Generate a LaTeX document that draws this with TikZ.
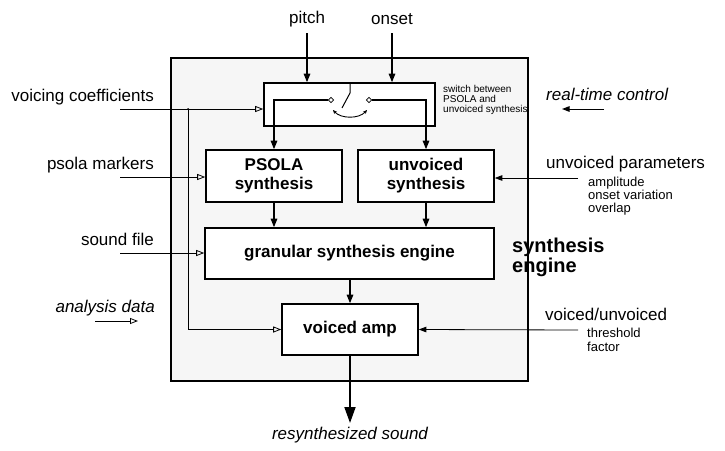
\documentclass[tikz,border=0pt]{standalone}
\usepackage{fontspec}
\setmainfont{Liberation Sans}
\usetikzlibrary{arrows.meta,shapes.geometric}

\tikzset{
	blk/.style={draw,line width=1.6pt,fill=white,align=center,inner sep=0pt,
		font=\fontsize{17}{19}\selectfont\bfseries},
	lbl/.style={inner sep=0pt,font=\fontsize{17}{19}\selectfont},
	sublbl/.style={inner sep=0pt,align=left,anchor=north west,font=\fontsize{13}{13}\selectfont},
	ctl/.style={line width=1.3pt,-{Triangle[length=8.5pt,width=6.5pt]}},
	dat/.style={line width=0.8pt,-{Triangle[open,length=8pt,width=6pt]}},
	par/.style={line width=0.8pt,-{Triangle[length=7.5pt,width=5.5pt]}},
	contact/.style={diamond,draw,line width=0.8pt,fill=white,inner sep=1.4pt},
}

\begin{document}
\begin{tikzpicture}[x=1pt,y=-1pt]
	\useasboundingbox (0,0) rectangle (725,450);
	% engine frame
	\node[draw,line width=1.5pt,fill=gray!7,minimum width=357pt,minimum height=323pt,inner sep=0pt] (eng) at (349.5,219.5) {};
	\node[inner sep=0pt,anchor=north west,align=left,font=\fontsize{20}{20}\selectfont\bfseries] (englbl) at (512,237.7) {synthesis\\engine};

	% blocks
	\node[blk,minimum width=171pt,minimum height=43pt] (sw) at (349.5,104.5) {};
	\node[blk,minimum width=136pt,minimum height=52pt] (psola) at (274,176) {PSOLA\\synthesis};
	\node[blk,minimum width=136pt,minimum height=52pt] (unv) at (426,176) {unvoiced\\synthesis};
	\node[blk,minimum width=289pt,minimum height=51pt] (gran) at (349.5,253.5) {granular synthesis engine};
	\node[blk,minimum width=136pt,minimum height=51pt] (vamp) at (350,329.5) {voiced amp};

	% switch
	\node[contact] (cl) at (331,100) {};
	\node[contact] (cr) at (369,100) {};
	\draw[line width=1pt] (350,83) -- (350,93) -- (342,108);
	\draw[line width=0.9pt,{Stealth[length=4pt,width=3.5pt]}-{Stealth[length=4pt,width=3.5pt]}] (333,110) .. controls (341,119) and (359,119) .. (367,110);
	\draw[ctl] (cl.west) -| (psola.north);
	\draw[ctl] (cr.east) -| (unv.north);
	\node[inner sep=0pt,anchor=north west,align=left,font=\fontsize{10}{10}\selectfont] (swlbl) at (443,84.8) {switch between\\PSOLA and\\unvoiced synthesis};

	% real-time control
	\node[lbl,anchor=base] (pitch) at (307,23) {pitch};
	\node[lbl,anchor=base] (onset) at (392,24) {onset};
	\draw[ctl] ([yshift=-10pt]pitch.base) -- (pitch.base |- sw.north);
	\draw[ctl] ([yshift=-9pt]onset.base) -- (onset.base |- sw.north);
	\node[lbl,anchor=base west,font=\fontsize{17}{19}\selectfont\itshape] (rtc) at (546,100) {real-time control};
	\coordinate (rtcA) at (604,109);
	\coordinate (rtcB) at (562,109);
	\draw[par,line width=1pt] (rtcA) -- (rtcB);

	\node[lbl,anchor=base west] (uvp) at (546,168) {unvoiced parameters};
	\node[sublbl] (uvpsub) at (588,176.7) {amplitude\\onset variation\\overlap};
	\coordinate (uvpin) at (578,178);
	\draw[par] (uvpin) -- (uvpin -| unv.east);

	\node[lbl,anchor=base west] (vu) at (545,320) {voiced/unvoiced};
	\node[sublbl,font=\fontsize{13}{14}\selectfont] (vusub) at (587,327.7) {threshold\\factor};
	\coordinate (vuin) at (578,330);
	\draw[par] (vuin) -- (vamp.east);

	% analysis data
	\node[lbl,anchor=base east] (vc) at (154,101) {voicing coefficients};
	\coordinate (vcin) at (120,109);
	\coordinate (vcj) at (188,109);
	\draw[dat] (vcin) -- (vcin -| sw.west);
	\fill (vcj) circle (1pt);
	\draw[dat] (vcj) |- (vamp.west);

	\node[lbl,anchor=base east] (pm) at (154,169) {psola markers};
	\coordinate (pmin) at (120,177);
	\draw[dat] (pmin) -- (pmin -| psola.west);

	\node[lbl,anchor=base east] (sf) at (154,245) {sound file};
	\coordinate (sfin) at (120,253);
	\draw[dat] (sfin) -- (sfin -| gran.west);

	\node[lbl,anchor=base east,font=\fontsize{17}{19}\selectfont\itshape] (ad) at (155,312) {analysis data};
	\coordinate (adA) at (95,321);
	\coordinate (adB) at (138,321);
	\draw[dat] (adA) -- (adB);

	% signal flow
	\draw[ctl] (psola.south) -- (psola.south |- gran.north);
	\draw[ctl] (unv.south) -- (unv.south |- gran.north);
	\draw[ctl] (gran.south -| vamp.north) -- (vamp.north);
	\coordinate (out) at (350,423);
	\draw[line width=1.8pt,-{Triangle[length=16pt,width=11pt]}] (vamp.south) -- (out);
	\node[lbl,anchor=base,font=\fontsize{17}{19}\selectfont\itshape] (res) at (350,439) {resynthesized sound};
\end{tikzpicture}
\end{document}
